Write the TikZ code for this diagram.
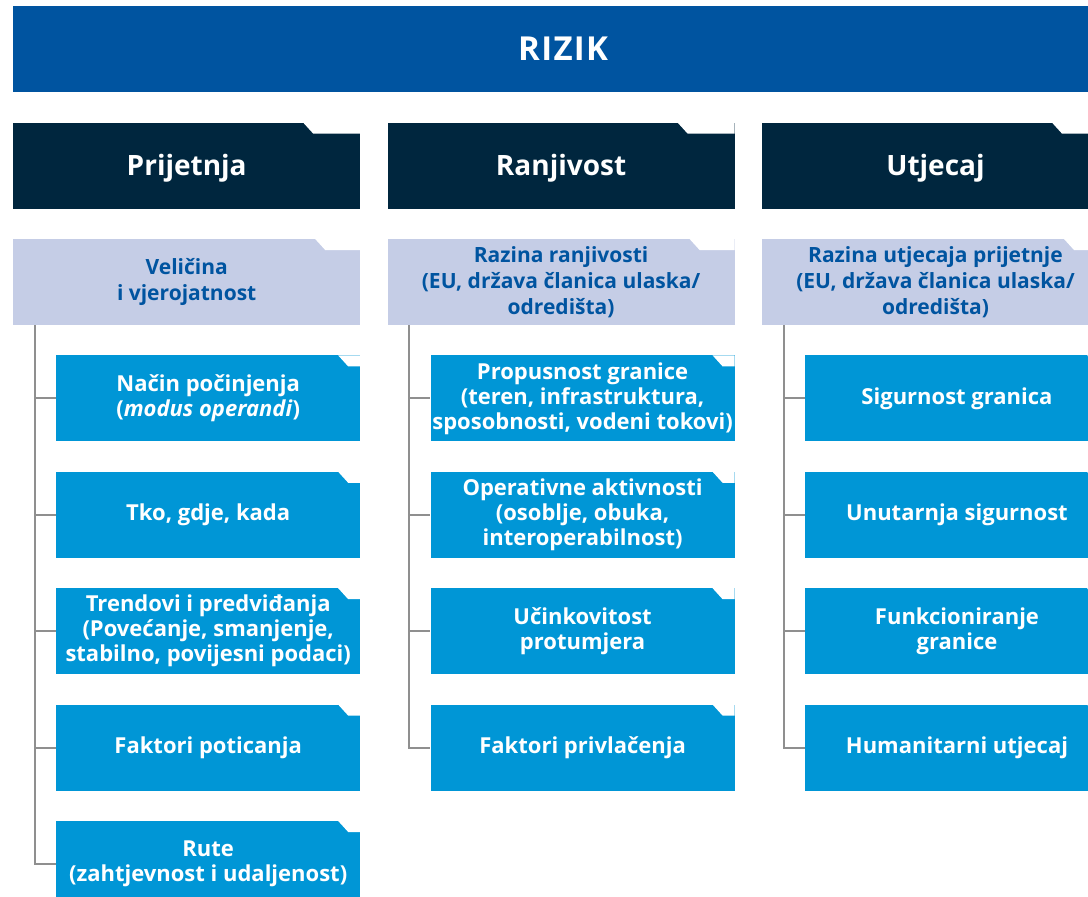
\documentclass[tikz,border=0pt]{standalone}
\usepackage{fontspec}
\setmainfont{Open Sans}
\usetikzlibrary{positioning}
\definecolor{rizikblue}{HTML}{0054A0}
\definecolor{navybox}{HTML}{00263E}
\definecolor{lavbox}{HTML}{C5CDE6}
\definecolor{cyanbox}{HTML}{0096D6}
\definecolor{trunkgray}{HTML}{8F8F8F}
\tikzset{
  notch/.style={path picture={\fill[white] (path picture bounding box.north east) -- ++(-#1,0) -- ++(10pt,-11pt) -| (path picture bounding box.north east) -- cycle;}},
  titlebar/.style={fill=rizikblue,text=white,font=\bfseries\fontsize{33}{38}\selectfont\addfontfeature{LetterSpace=4},minimum width=1100pt,minimum height=86pt,inner sep=0pt},
  headbox/.style={fill=navybox,text=white,font=\bfseries\fontsize{28}{32}\selectfont,text depth=2pt,minimum width=347pt,minimum height=86pt,inner sep=0pt,notch=57pt},
  subbox/.style={fill=lavbox,text=rizikblue,align=center,font=\bfseries\fontsize{21}{26}\selectfont,minimum width=347pt,minimum height=86pt,inner sep=0pt,notch=45pt},
  itembox/.style={fill=cyanbox,text=white,align=center,font=\bfseries\fontsize{22}{25}\selectfont,minimum width=304pt,minimum height=86pt,inner sep=0pt,notch=22pt},
  conn/.style={draw=trunkgray,line width=2pt}
}
\begin{document}
\begin{tikzpicture}[x=1pt,y=-1pt]
  \clip (0,0) rectangle (1088,897);
  \path[use as bounding box] (0,0) rectangle (1088,897);

  \node[titlebar,anchor=north west] (rizik) at (13,6) {RIZIK};

  % three columns
  \node[headbox,below=30pt of rizik.south west,anchor=north west] (h1) {Prijetnja};
  \node[headbox,right=27pt of h1] (h2) {Ranjivost};
  \node[headbox,right=27pt of h2] (h3) {Utjecaj};

  \node[subbox,below=30pt of h1] (s1) {Veličina\\i vjerojatnost};
  \node[subbox,below=30pt of h2] (s2) {Razina ranjivosti\\(EU, država članica ulaska/\\odredišta)};
  \node[subbox,below=30pt of h3] (s3) {Razina utjecaja prijetnje\\(EU, država članica ulaska/\\odredišta)};

  % Prijetnja
  \node[itembox,below=30pt of s1,xshift=21.5pt] (a1) {Način počinjenja\\(\textit{modus operandi})};
  \node[itembox,below=30pt of a1] (a2) {Tko, gdje, kada};
  \node[itembox,below=30pt of a2] (a3) {Trendovi i predviđanja\\(Povećanje, smanjenje,\\stabilno, povijesni podaci)};
  \node[itembox,below=30pt of a3] (a4) {Faktori poticanja};
  \node[itembox,below=30pt of a4] (a5) {Rute\\(zahtjevnost i udaljenost)};

  % Ranjivost
  \node[itembox,below=30pt of s2,xshift=21.5pt] (b1) {Propusnost granice\\(teren, infrastruktura,\\sposobnosti, vodeni tokovi)};
  \node[itembox,below=30pt of b1] (b2) {Operativne aktivnosti\\(osoblje, obuka,\\interoperabilnost)};
  \node[itembox,below=30pt of b2] (b3) {Učinkovitost\\protumjera};
  \node[itembox,below=30pt of b3] (b4) {Faktori privlačenja};

  % Utjecaj
  \node[itembox,below=30pt of s3,xshift=21.5pt] (c1) {Sigurnost granica};
  \node[itembox,below=30pt of c1] (c2) {Unutarnja sigurnost};
  \node[itembox,below=30pt of c2] (c3) {Funkcioniranje\\granice};
  \node[itembox,below=30pt of c3] (c4) {Humanitarni utjecaj};

  \coordinate (t1) at ([xshift=22pt]s1.south west);
  \coordinate (t2) at ([xshift=22pt]s2.south west);
  \coordinate (t3) at ([xshift=22pt]s3.south west);
  \foreach \n in {a1,a2,a3,a4,a5} \draw[conn] (t1) |- (\n.west);
  \foreach \n in {b1,b2,b3,b4} \draw[conn] (t2) |- (\n.west);
  \foreach \n in {c1,c2,c3,c4} \draw[conn] (t3) |- (\n.west);
\end{tikzpicture}
\end{document}
